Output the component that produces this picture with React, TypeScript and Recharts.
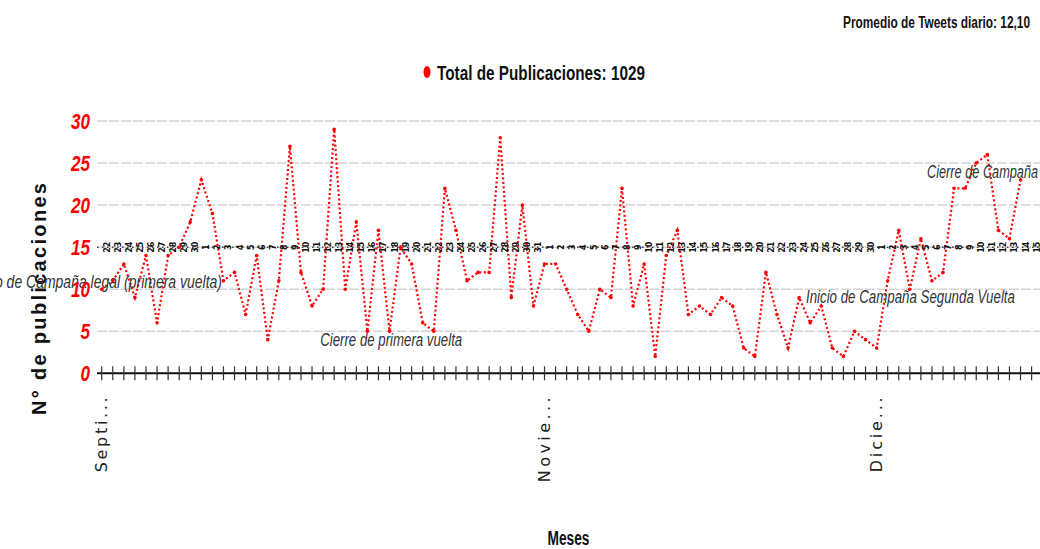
import {
  CartesianGrid,
  Label,
  Legend,
  Line,
  LineChart,
  ReferenceDot,
  ReferenceLine,
  XAxis,
  YAxis,
} from "recharts";

// Sept 22 -> Dec 15, one entry per day
const DAYS = [
  22, 23, 24, 25, 26, 27, 28, 29, 30,
  1, 2, 3, 4, 5, 6, 7, 8, 9, 10, 11, 12, 13, 14, 15, 16, 17, 18, 19, 20, 21, 22, 23, 24, 25, 26, 27, 28, 29, 30, 31,
  1, 2, 3, 4, 5, 6, 7, 8, 9, 10, 11, 12, 13, 14, 15, 16, 17, 18, 19, 20, 21, 22, 23, 24, 25, 26, 27, 28, 29, 30,
  1, 2, 3, 4, 5, 6, 7, 8, 9, 10, 11, 12, 13, 14, 15,
];

// posts per day (Dec 15 has no point on the line)
const POSTS = [
  10, 11, 13, 9, 14, 6, 14, 15, 18, 23,
  19, 11, 12, 7, 14, 4, 11, 27, 12, 8,
  10, 29, 10, 18, 5, 17, 5, 15, 13, 6,
  5, 22, 17, 11, 12, 12, 28, 9, 20, 8,
  13, 13, 10, 7, 5, 10, 9, 22, 8, 13,
  2, 14, 17, 7, 8, 7, 9, 8, 3, 2,
  12, 7, 3, 9, 6, 8, 3, 2, 5, 4,
  3, 11, 17, 10, 16, 11, 12, 22, 22, 25,
  26, 17, 16, 23,
];

const TOTAL_POSTS = 1029;
const DAILY_AVG = "12,10";

// month label shown under the day index where it starts
const MONTH_LABELS: Record<number, { text: string; len: number }> = {
  0: { text: "Septi...", len: 75 },
  40: { text: "Novie...", len: 85 },
  70: { text: "Dicie...", len: 75 },
};

const Y_TICKS = [0, 5, 10, 15, 20, 25, 30];
const DAY_ROW = 15;

const NOTES = [
  { text: "Inicio de Campaña legal (primera vuelta)", k: 10.87, v: 10.1, anchor: "end", len: 252 },
  { text: "Cierre de primera vuelta", k: 26.15, v: 3.2, anchor: "middle", len: 142 },
  { text: "Inicio de Campaña Segunda Vuelta", k: 73.06, v: 8.3, anchor: "middle", len: 209 },
  { text: "Cierre de Campaña", k: 79.57, v: 23.2, anchor: "middle", len: 111 },
];

const data = DAYS.map((d, i) => ({ k: i, day: d, posts: POSTS[i] ?? null }));

const NARROW = '"Liberation Sans Narrow", "Liberation Sans", Arial, sans-serif';
const W = 1040;
const H = 549;
const TOP = 121;
const AXIS_H = 175.7;
const PLOT_H = H - TOP - AXIS_H;
const dayRowOffset = (PLOT_H * DAY_ROW) / 30;

function DayTick(props: any) {
  const { x, y, payload } = props;
  const k = payload.value as number;
  const month = MONTH_LABELS[k];
  return (
    <g>
      <line x1={x} x2={x} y1={y - 7} y2={y + 7} stroke="#333" strokeWidth={1.2} />
      <text
        transform={`translate(${x + 5.5},${y - dayRowOffset}) rotate(-90)`}
        textAnchor="middle"
        dominantBaseline="central"
        fontSize={8}
        fontWeight="bold"
        fontFamily="DejaVu Sans, sans-serif"
        fill="#111"
      >
        {DAYS[k]}
      </text>
      {month && (
        <text
          transform={`translate(${x},${y + 24}) rotate(-90)`}
          textAnchor="end"
          dominantBaseline="central"
          fontSize={16}
          fontFamily="DejaVu Sans, sans-serif"
          fill="#222"
          textLength={month.len}
          lengthAdjust="spacing"
        >
          {month.text}
        </text>
      )}
    </g>
  );
}

function ValueTick(props: any) {
  const { x, y, payload } = props;
  return (
    <text
      transform={`translate(${x},${y}) scale(0.78,1)`}
      dy="0.36em"
      textAnchor="end"
      fill="#ff0000"
      fontStyle="italic"
      fontWeight="bold"
      fontSize={22}
      fontFamily={NARROW}
    >
      {payload.value}
    </text>
  );
}

function Header() {
  return (
    <svg width={W} height={92} style={{ display: "block" }}>
      <text
        x={1030}
        y={28}
        textAnchor="end"
        fontFamily={NARROW}
        fontWeight="bold"
        fontSize={16}
        textLength={187}
        lengthAdjust="spacingAndGlyphs"
        fill="#111"
      >
        {`Promedio de Tweets diario: ${DAILY_AVG}`}
      </text>
      <ellipse cx={427} cy={72} rx={3.5} ry={6} fill="#ff0000" />
      <text
        x={437}
        y={80}
        fontFamily={NARROW}
        fontWeight="bold"
        fontSize={21}
        textLength={208}
        lengthAdjust="spacingAndGlyphs"
        fill="#111"
      >
        {`Total de Publicaciones: ${TOTAL_POSTS}`}
      </text>
    </svg>
  );
}

export default function App() {
  return (
    <div style={{ position: "absolute", left: 0, top: 0, width: W, height: H, background: "#fff" }}>
      <LineChart width={W} height={H} data={data} margin={{ top: TOP, right: 0, bottom: 0, left: 0 }}>
        <CartesianGrid vertical={false} stroke="#d4d4d4" strokeWidth={1.5} strokeDasharray="10 2" />
        <ReferenceLine y={DAY_ROW} stroke="#444" strokeWidth={1.5} strokeDasharray="1.5 3.5" />
        <XAxis
          dataKey="k"
          type="number"
          domain={[-0.425, 84.76]}
          allowDataOverflow
          ticks={data.map((d) => d.k)}
          interval={0}
          tick={DayTick}
          tickLine={false}
          tickSize={0}
          tickMargin={0}
          axisLine={{ stroke: "#111", strokeWidth: 2 }}
          height={AXIS_H}
        >
          <Label
            content={(p: any) => (
              <text
                x={p.viewBox.x + p.viewBox.width / 2}
                y={p.viewBox.y + 172}
                textAnchor="middle"
                fontFamily={NARROW}
                fontWeight="bold"
                fontSize={20}
                textLength={42}
                lengthAdjust="spacingAndGlyphs"
                fill="#111"
              >
                Meses
              </text>
            )}
          />
        </XAxis>
        <YAxis
          domain={[0, 30]}
          ticks={Y_TICKS}
          interval={0}
          width={97}
          tick={ValueTick}
          tickLine={false}
          tickSize={0}
          tickMargin={7}
          axisLine={false}
        >
          <Label
            content={(p: any) => (
              <text
                transform={`translate(${p.viewBox.x + 38.5},${p.viewBox.y + 178}) rotate(-90)`}
                textAnchor="middle"
                dominantBaseline="central"
                fontFamily="Liberation Sans, Arial, sans-serif"
                fontWeight="bold"
                fontSize={20}
                textLength={232}
                lengthAdjust="spacing"
                fill="#111"
              >
                N° de publicaciones
              </text>
            )}
          />
        </YAxis>
        <Legend
          layout="horizontal"
          verticalAlign="middle"
          align="center"
          wrapperStyle={{ top: 0, left: 0, width: W, height: 92 }}
          content={() => <Header />}
        />
        <Line
          type="linear"
          dataKey="posts"
          stroke="#ff0000"
          strokeWidth={2.2}
          strokeDasharray="2 2.5"
          dot={{ r: 1.8, fill: "#ff0000", stroke: "none" }}
          activeDot={false}
          connectNulls={false}
          isAnimationActive={false}
        />
        {NOTES.map((n) => (
          <ReferenceDot
            key={n.text}
            x={n.k}
            y={n.v}
            r={1}
            ifOverflow="visible"
            shape={(p: any) => (
              <text
                x={p.cx}
                y={p.cy}
                textAnchor={n.anchor as any}
                fontFamily={NARROW}
                fontStyle="italic"
                fontSize={18}
                fill="#333"
                textLength={n.len}
                lengthAdjust="spacingAndGlyphs"
              >
                {n.text}
              </text>
            )}
          />
        ))}
      </LineChart>
    </div>
  );
}
